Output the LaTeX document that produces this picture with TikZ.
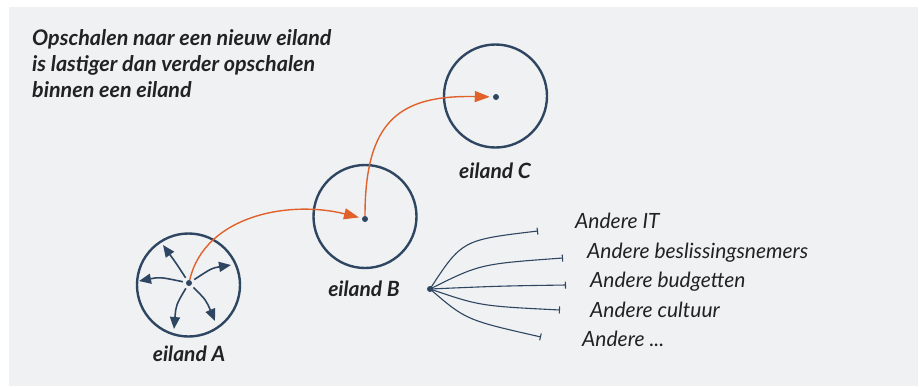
\documentclass[tikz,border=0pt]{standalone}
\usepackage{fontspec}
\setmainfont{Lato}
\usetikzlibrary{arrows.meta}

\definecolor{ink}{HTML}{2E4661}
\definecolor{rust}{HTML}{E0622A}
\definecolor{paper}{HTML}{F0F1F3}
\definecolor{txt}{HTML}{222222}

\begin{document}
\begin{tikzpicture}[x=1pt,y=-1pt,
  island/.style={circle, draw=ink, line width=2.4pt, minimum size=103pt, inner sep=0pt},
  hub/.style={circle, fill=ink, inner sep=0pt, minimum size=6pt},
  headline/.style={anchor=base west, inner sep=0pt, text=txt,
    font=\fontsize{21.5}{26}\selectfont\bfseries\itshape},
  islandlabel/.style={anchor=base, inner sep=0pt, text=txt,
    font=\fontsize{21}{24}\selectfont\bfseries\itshape},
  item/.style={anchor=base west, inner sep=0pt, text=txt,
    font=\fontsize{21}{24}\selectfont\itshape},
  hop/.style={draw=rust, line width=1.4pt, shorten >=3pt,
    -{Triangle[length=15pt,width=11pt]}},
  burst/.style={draw=ink, line width=1.6pt, shorten <=3pt,
    -{Triangle[length=12pt,width=10pt]}},
  spoke/.style={draw=ink, line width=1.1pt, -{Bar[width=7pt]}}
]
% canvas
\useasboundingbox (0,0) rectangle (919,386);
\fill[white] (0,0) rectangle (919,386);
\fill[paper] (9,7) rectangle (918,386);

% heading, one node per line
\node[headline] (title1) at (32,45) {Opschalen naar een nieuw eiland};
\node[headline] (title2) at (32,71) {is lastiger dan verder opschalen};
\node[headline] (title3) at (32,97) {binnen een eiland};

% islands
\node[island] (circA) at (188.5,285) {};
\node[island] (circB) at (365,216.5) {};
\node[island] (circC) at (495.5,96) {};
\node[hub] (dotA) at (189,283) {};
\node[hub] (dotB) at (365,219) {};
\node[hub] (dotC) at (496,97) {};

\node[islandlabel] (labA) at (189,361) {eiland A};
\node[islandlabel] (labB) at (364,296) {eiland B};
\node[islandlabel] (labC) at (495,178) {eiland C};

% growth inside island A
\coordinate (tipUL) at (163,245);
\coordinate (tipL) at (139,281);
\coordinate (tipR) at (231,265);
\coordinate (tipDL) at (174,329);
\coordinate (tipDR) at (215,321);
\draw[burst] (dotA) .. controls (176,263) .. (tipUL);
\draw[burst] (dotA) .. controls (160,277) .. (tipL);
\draw[burst] (dotA) .. controls (212,268) .. (tipR);
\draw[burst] (dotA) .. controls (176,305) .. (tipDL);
\draw[burst] (dotA) .. controls (206,300) .. (tipDR);

% hops between islands
\draw[hop] (dotA) .. controls (205,215) and (290,200) .. (dotB);
\draw[hop] (dotB) .. controls (365,120) and (400,95) .. (dotC);

% differences fanning out from island B
\node[hub] (fan) at (430,289) {};
\coordinate (end1) at (538,231);
\coordinate (end2) at (563,258);
\coordinate (end3) at (566,285);
\coordinate (end4) at (560,310);
\coordinate (end5) at (541,337);
\draw[spoke] (fan.center) .. controls (462,240) .. (end1);
\draw[spoke] (fan.center) .. controls (480,264) .. (end2);
\draw[spoke] (fan.center) .. controls (500,286) .. (end3);
\draw[spoke] (fan.center) .. controls (480,306) .. (end4);
\draw[spoke] (fan.center) .. controls (466,320) .. (end5);

\node[item] (it1) at (575,228) {Andere IT};
\node[item] (it2) at (587,258) {Andere beslissingsnemers};
\node[item] (it3) at (590,287) {Andere budgetten};
\node[item] (it4) at (590,317) {Andere cultuur};
\node[item] (it5) at (582,346) {Andere ...};
\end{tikzpicture}
\end{document}
